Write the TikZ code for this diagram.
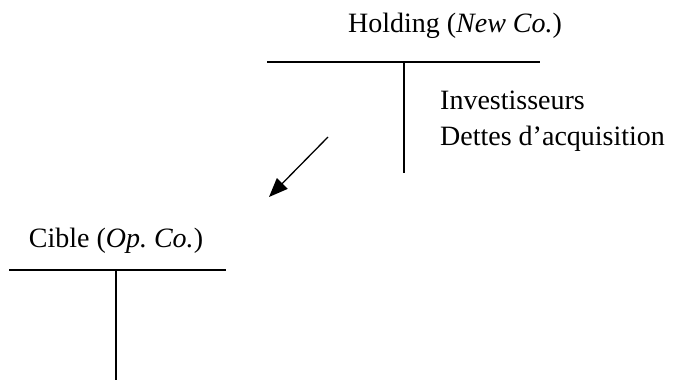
\documentclass[tikz,border=0pt]{standalone}
\usepackage{fontspec}
\setmainfont{Liberation Serif}
\usetikzlibrary{arrows.meta}
\begin{document}
\begin{tikzpicture}[x=1pt,y=-1pt,
  lbl/.style={font=\fontsize{28}{32}\selectfont\frenchspacing, inner sep=0pt},
  tline/.style={line width=1.2pt},
  flow/.style={line width=1.3pt, -{Triangle[length=19pt,width=15pt]}}]
\useasboundingbox (0,0) rectangle (684,381);
% Holding T-account
\node[lbl] (hold) at (455,26) {Holding (\textit{New Co.})};
\coordinate (hl) at (267,62);
\coordinate (hr) at (540,62);
\coordinate (ht) at (404,62);
\coordinate (hb) at (404,173);
\draw[tline] (hl) -- (hr);
\draw[tline] (ht) -- (hb);
\node[lbl, anchor=west] (inv) at (440,100) {Investisseurs};
\node[lbl, anchor=west] (dette) at (440,139) {Dettes d’acquisition};
% Cible T-account
\node[lbl] (cible) at (116,241) {Cible (\textit{Op. Co.})};
\coordinate (cl) at (9,270);
\coordinate (cr) at (226,270);
\coordinate (ct) at (116,270);
\coordinate (cb) at (116,380);
\draw[tline] (cl) -- (cr);
\draw[tline] (ct) -- (cb);
% arrow
\coordinate (as) at (328,137);
\coordinate (ae) at (269,197);
\draw[flow] (as) -- (ae);
\end{tikzpicture}
\end{document}
